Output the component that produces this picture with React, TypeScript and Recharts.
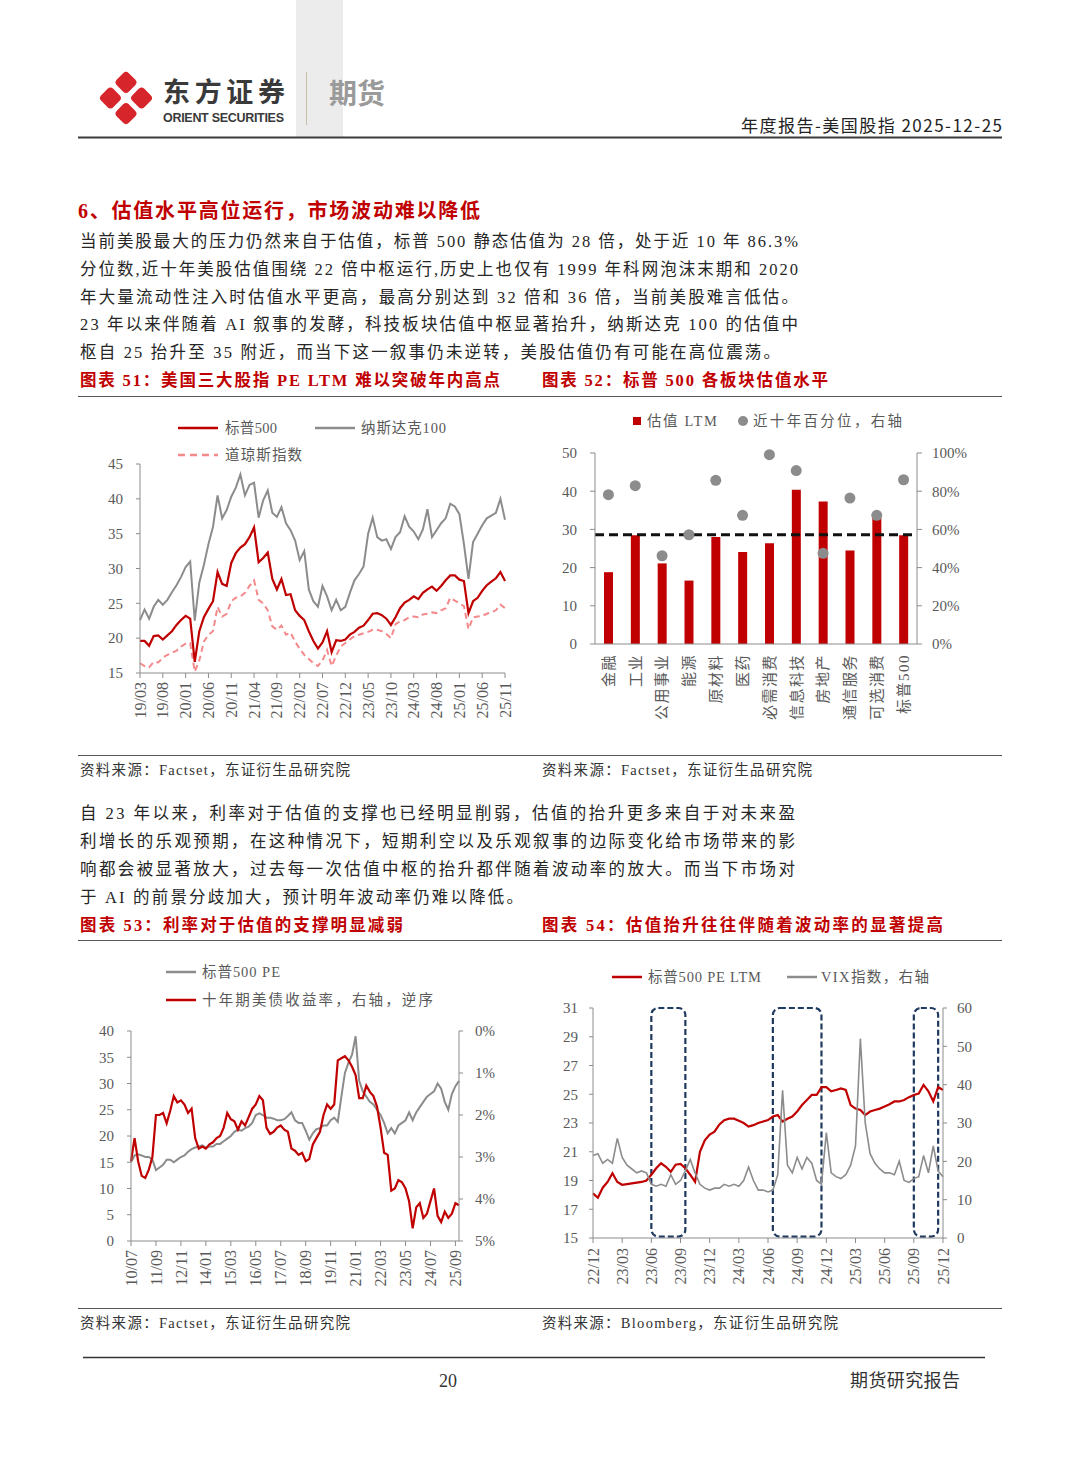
import React from 'react';
import {
  LineChart,
  ComposedChart,
  Line,
  Bar,
  XAxis,
  YAxis,
  ReferenceLine,
  ReferenceArea,
} from 'recharts';

const SERIF = '"Liberation Serif", "Noto Sans CJK SC", serif';
const SANS = '"Noto Sans CJK SC", "Noto Sans", sans-serif';
const RED = '#c00000';
const GRAY = '#8c8c8c';
const PINK = '#f4898b';
const AX = '#8c8c8c';
const TXT = '#595959';

// month labels like "19/03"
function monthSeq(y: number, m: number, n: number, step = 1) {
  const out: string[] = [];
  for (let i = 0; i < n; i++) {
    out.push(`${String(y % 100).padStart(2, '0')}/${String(m).padStart(2, '0')}`);
    m += step;
    while (m > 12) {
      m -= 12;
      y += 1;
    }
  }
  return out;
}

// ---- chart 51: PE LTM of the three indices, monthly 19/03 - 25/11
const months51 = monthSeq(2019, 3, 81);
const spx51 = [
  19.6, 19.6, 18.9, 20.3, 20.4, 19.8, 20.4, 21.0, 21.9, 22.6,
  23.2, 22.8, 16.6, 21.0, 23.0, 24.2, 25.3, 29.5, 27.8, 27.5, 30.8, 32.2,
  33.0, 33.5, 34.5, 35.9, 30.9, 31.5, 32.3, 28.5, 27.0, 28.5, 26.2, 26.3,
  24.0, 23.2, 22.6, 21.0, 19.6, 18.5, 19.4, 21.0, 18.0, 19.7, 19.6, 19.8,
  20.5, 20.9, 21.5, 21.8, 22.6, 23.5, 23.6, 23.3, 22.8, 21.9, 23.0, 24.3,
  25.1, 25.5, 26.0, 25.6, 26.5, 27.0, 27.4, 26.8, 27.5, 28.3, 29.0, 29.0,
  28.4, 28.2, 23.6, 25.3, 25.8, 26.8, 27.6, 28.1, 28.6, 29.5, 28.2,
];
const ndx51 = [
  22.6, 24.1, 22.8, 24.5, 25.5, 24.8, 25.5, 26.6, 27.6, 28.8,
  30.2, 31.0, 22.5, 28.0, 30.5, 33.5, 36.0, 40.5, 37.2, 38.4, 40.3, 41.6,
  43.5, 40.5, 42.0, 42.3, 37.3, 39.8, 41.2, 38.0, 37.4, 38.8, 36.5, 35.5,
  34.0, 31.2, 32.5, 27.0, 25.3, 24.5, 27.5, 26.0, 24.0, 25.5, 24.0, 24.5,
  26.5, 28.3, 29.2, 30.3, 35.0, 37.3, 34.5, 34.0, 34.2, 32.8, 34.5, 35.2,
  37.5, 36.0, 35.3, 34.2, 35.6, 38.5, 34.5, 35.5, 36.5, 37.2, 39.3, 38.9,
  37.8, 33.5, 28.5, 33.8, 35.0, 36.2, 37.2, 37.6, 38.0, 40.0, 37.0,
];
const dji51 = [
  16.4, 16.0, 15.8, 16.6, 16.5, 17.2, 17.6, 17.9, 18.2, 18.8,
  19.2, 19.3, 15.2, 16.8, 19.5, 20.5, 21.0, 24.5, 23.1, 23.5, 25.3, 25.8,
  26.0, 26.5, 27.5, 28.3, 25.5, 25.0, 24.0, 21.7, 21.2, 21.8, 20.5, 20.8,
  19.5, 18.5, 17.6, 17.0, 16.4, 16.0, 16.8, 18.3, 16.0, 17.5, 18.8, 19.3,
  19.8, 20.3, 20.5, 20.7, 20.9, 21.2, 21.2, 21.0, 20.6, 20.0, 22.0, 22.4,
  22.6, 23.0, 23.1, 23.0, 23.4, 23.5, 23.7, 23.6, 24.0, 24.3, 25.8, 25.4,
  25.0, 24.6, 21.3, 23.0, 23.1, 23.2, 23.5, 23.7, 24.0, 24.8, 24.3,
];
const ticks51 = [15, 20, 25, 30, 35, 40, 45];

// ---- chart 52: sector valuation
const sectors52 = ['金融', '工业', '公用事业', '能源', '原材料', '医药', '必需消费', '信息科技', '房地产', '通信服务', '可选消费', '标普500'];
const ltm52 = [18.8, 28.5, 21.1, 16.6, 28.0, 24.1, 26.4, 40.4, 37.3, 24.5, 33.0, 28.5];
const pct52 = [78.2, 82.9, 46.2, 57.2, 85.7, 67.4, 99.1, 90.8, 47.5, 76.4, 67.4, 86.0];
const spxLtm52 = 28.6;
const ticksL52 = [0, 10, 20, 30, 40, 50];
const ticksR52 = [0, 20, 40, 60, 80, 100];

// ---- chart 53: S&P 500 PE vs 10y yield (inverted), bimonthly 10/07 - 25/11
const dates53 = monthSeq(2010, 7, 93, 2);
const pe53 = [
  15.0, 16.3, 16.5, 16.3, 16.0, 16.0, 15.5, 13.5, 14.0, 14.5,
  15.5, 15.5, 15.0, 15.5, 16.0, 16.3, 17.0, 17.5, 17.8, 18.0,
  18.2, 17.8, 18.0, 18.0, 18.5, 18.5, 19.0, 19.5, 20.0, 20.8,
  21.2, 21.0, 21.5, 21.8, 22.5, 24.0, 24.3, 24.0, 23.5, 23.5,
  23.3, 23.0, 23.0, 23.2, 23.8, 24.5, 23.0, 22.5, 22.5, 21.0,
  19.3, 20.5, 21.3, 21.5, 22.0, 22.0, 23.0, 23.5, 22.7, 27.5,
  32.0, 34.0, 35.5, 39.0, 30.5, 28.5, 27.5, 26.5, 26.0, 25.0,
  24.0, 22.5, 20.5, 21.5, 20.5, 22.0, 22.5, 23.0, 24.5, 23.0,
  24.5, 25.5, 26.5, 27.5, 28.0, 28.5, 30.0, 29.0, 26.5, 25.0,
  28.0, 29.5, 30.5,
];
const y10_53 = [
  3.1, 2.55, 3.1, 3.45, 3.5, 3.3, 3.0, 2.0, 2.0, 1.95,
  2.2, 1.9, 1.55, 1.7, 1.65, 1.75, 1.95, 1.85, 2.55, 2.8,
  2.75, 2.8, 2.7, 2.65, 2.55, 2.5, 2.3, 1.95, 2.1, 2.15,
  2.35, 2.15, 2.25, 2.05, 1.85, 1.75, 1.55, 1.65, 2.3, 2.45,
  2.4, 2.3, 2.25, 2.35, 2.4, 2.8, 2.85, 2.95, 2.9, 3.1,
  3.05, 2.7, 2.55, 2.4, 2.0, 1.75, 1.85, 1.75, 0.7, 0.65,
  0.6, 0.7, 0.85, 1.05, 1.6, 1.6, 1.3, 1.45, 1.55, 1.8,
  2.3, 2.9, 2.95, 3.8, 3.75, 3.55, 3.6, 3.75, 4.05, 4.7,
  4.2, 4.1, 4.45, 4.35, 4.05, 3.75, 4.4, 4.55, 4.3, 4.45,
  4.35, 4.1, 4.15,
];
const ticksL53 = [0, 5, 10, 15, 20, 25, 30, 35, 40];
const ticksR53 = [0, 1, 2, 3, 4, 5];

// ---- chart 54: S&P 500 PE LTM vs VIX, half-monthly 22/12 - 25/12
const dates54 = monthSeq(2022, 12, 37).flatMap((d, i, arr) =>
  i < arr.length - 1 ? [d + 'a', d + 'b'] : [d + 'a']
);
const pe54 = [
  18.1, 17.8, 18.5, 18.9, 19.5, 18.9, 18.7, 18.75, 18.8, 18.85,
  18.9, 19.0, 19.4, 19.85, 20.2, 19.95, 19.6, 20.1, 20.15, 19.85,
  19.4, 18.9, 21.0, 21.8, 22.2, 22.4, 22.9, 23.2, 23.3, 23.3,
  23.15, 23.0, 22.75, 22.85, 23.0, 23.1, 23.2, 23.45, 23.55, 23.1,
  23.3, 23.45, 23.8, 24.25, 24.6, 24.95, 24.95, 25.5, 25.5, 25.2,
  25.3, 25.4, 25.3, 24.25, 24.0, 23.9, 23.55, 23.8, 23.9, 24.0,
  24.15, 24.3, 24.5, 24.5, 24.6, 24.8, 24.95, 25.05, 25.65, 25.2,
  24.5, 25.5, 25.3,
];
const vix54 = [
  21.5, 22, 19.5, 20.5, 19.5, 26, 21, 19, 18, 17,
  17.5, 17, 14, 13.5, 14, 13.5, 16.5, 14, 15, 17.5,
  20.5, 17, 14, 13, 12.5, 13, 13, 14, 13.5, 14,
  13.5, 15, 18.5, 15, 12.5, 12.5, 12, 12.5, 16.5, 38.5,
  19, 17, 21, 18, 21, 19.5, 15, 14, 27.5, 17,
  16, 15.5, 16.5, 19, 24, 52, 30, 22, 19.5, 18,
  17, 17, 16.5, 20, 15, 14.5, 15.5, 16, 21.5, 17,
  24, 17.5, 16,
];
const boxes54: [string, string][] = [
  ['23/06a', '23/09b'],
  ['24/06b', '24/11b'],
  ['25/09a', '25/11b'],
];
const ticksL54 = [15, 17, 19, 21, 23, 25, 27, 29, 31];
const ticksR54 = [0, 10, 20, 30, 40, 50, 60];

const data51 = months51.map((m, i) => ({ m, spx: spx51[i], ndx: ndx51[i], dji: dji51[i] }));
const data52 = sectors52.map((s, i) => ({ s, ltm: ltm52[i], pct: pct52[i] }));
const data53 = dates53.map((d, i) => ({ d, pe: pe53[i], y10: y10_53[i] }));
const data54 = dates54.map((d, i) => ({ d, pe: pe54[i], vix: vix54[i] }));

// ---- shared bits
const yTick = { fontSize: 15, fill: TXT, fontFamily: SERIF };

const RotTick = (props: any) => {
  const { x, y, payload, fmt, size = 16, spacing = 0 } = props;
  const label = fmt ? fmt(payload.value) : payload.value;
  return (
    <text
      x={x}
      y={y}
      transform={`rotate(-90 ${x} ${y})`}
      textAnchor="end"
      dy="0.35em"
      fontSize={size}
      letterSpacing={spacing}
      fill={TXT}
      fontFamily={SERIF}
    >
      {label}
    </text>
  );
};

const boxShape = (p: any) => (
  <rect
    x={p.x}
    y={p.y}
    width={p.width}
    height={p.height}
    rx={7}
    ry={7}
    fill="none"
    stroke="#1f3a5f"
    strokeWidth={2.2}
    strokeDasharray="6 3"
  />
);

const Chart51 = () => (
  <LineChart width={440} height={330} data={data51} margin={{ top: 64, right: 13, bottom: 0, left: 0 }}>
    <XAxis
      dataKey="m"
      interval={4}
      height={57}
      tickSize={5}
      tickMargin={4}
      axisLine={{ stroke: AX }}
      tickLine={{ stroke: AX }}
      tick={(p: any) => <RotTick {...p} />}
    />
    <YAxis
      domain={[15, 45]}
      ticks={ticks51}
      width={62}
      tickSize={4}
      tickMargin={13}
      axisLine={{ stroke: AX }}
      tickLine={{ stroke: AX }}
      tick={yTick}
    />
    <Line dataKey="ndx" stroke={GRAY} strokeWidth={2} dot={false} isAnimationActive={false} />
    <Line dataKey="dji" stroke={PINK} strokeWidth={2} strokeDasharray="6 4" dot={false} isAnimationActive={false} />
    <Line dataKey="spx" stroke={RED} strokeWidth={2.2} dot={false} isAnimationActive={false} />
  </LineChart>
);

const Chart52 = () => (
  <ComposedChart width={440} height={330} data={data52} margin={{ top: 53, right: 0, bottom: 0, left: 0 }}>
    <XAxis
      dataKey="s"
      interval={0}
      height={86}
      tickSize={0}
      tickMargin={10}
      tickLine={false}
      axisLine={{ stroke: AX }}
      tick={(p: any) => <RotTick {...p} size={15} spacing={1.5} />}
    />
    <YAxis
      yAxisId="l"
      domain={[0, 50]}
      ticks={ticksL52}
      width={55}
      tickSize={5}
      tickMargin={13}
      axisLine={{ stroke: AX }}
      tickLine={{ stroke: AX }}
      tick={yTick}
    />
    <YAxis
      yAxisId="r"
      orientation="right"
      domain={[0, 100]}
      ticks={ticksR52}
      width={63}
      tickSize={5}
      tickMargin={10}
      axisLine={{ stroke: AX }}
      tickLine={{ stroke: AX }}
      tick={yTick}
      tickFormatter={(v: number) => `${v}%`}
    />
    <Bar yAxisId="l" dataKey="ltm" fill={RED} barSize={9} isAnimationActive={false} />
    <ReferenceLine yAxisId="l" y={spxLtm52} stroke="#111" strokeWidth={3} strokeDasharray="9 5" />
    <Line
      yAxisId="r"
      dataKey="pct"
      stroke="none"
      dot={{ r: 5.5, fill: GRAY, stroke: 'none' }}
      activeDot={false}
      isAnimationActive={false}
    />
  </ComposedChart>
);

const Chart53 = () => (
  <LineChart width={440} height={340} data={data53} margin={{ top: 76, right: 0, bottom: 0, left: 0 }}>
    <XAxis
      dataKey="d"
      interval={6}
      height={54}
      tickSize={5}
      tickMargin={4}
      axisLine={{ stroke: AX }}
      tickLine={{ stroke: AX }}
      tick={(p: any) => <RotTick {...p} />}
    />
    <YAxis
      yAxisId="l"
      domain={[0, 40]}
      ticks={ticksL53}
      width={53}
      tickSize={4}
      tickMargin={13}
      axisLine={{ stroke: AX }}
      tickLine={{ stroke: AX }}
      tick={yTick}
    />
    <YAxis
      yAxisId="r"
      orientation="right"
      reversed
      domain={[0, 5]}
      ticks={ticksR53}
      width={59}
      tickSize={4}
      tickMargin={12}
      axisLine={{ stroke: AX }}
      tickLine={{ stroke: AX }}
      tick={yTick}
      tickFormatter={(v: number) => `${v}%`}
    />
    <Line yAxisId="l" dataKey="pe" stroke={GRAY} strokeWidth={2} dot={false} isAnimationActive={false} />
    <Line yAxisId="r" dataKey="y10" stroke={RED} strokeWidth={2.2} dot={false} isAnimationActive={false} />
  </LineChart>
);

const Chart54 = () => (
  <LineChart width={440} height={340} data={data54} margin={{ top: 53, right: 0, bottom: 0, left: 0 }}>
    <XAxis
      dataKey="d"
      interval={5}
      height={57}
      tickSize={5}
      tickMargin={5}
      axisLine={{ stroke: AX }}
      tickLine={{ stroke: AX }}
      tick={(p: any) => <RotTick {...p} fmt={(v: string) => v.slice(0, 5)} />}
    />
    <YAxis
      yAxisId="l"
      domain={[15, 31]}
      ticks={ticksL54}
      width={53}
      tickSize={4}
      tickMargin={11}
      axisLine={{ stroke: AX }}
      tickLine={{ stroke: AX }}
      tick={yTick}
    />
    <YAxis
      yAxisId="r"
      orientation="right"
      domain={[0, 60]}
      ticks={ticksR54}
      width={37}
      tickSize={4}
      tickMargin={10}
      axisLine={{ stroke: AX }}
      tickLine={{ stroke: AX }}
      tick={yTick}
    />
    {boxes54.map(([a, b]) => (
      <ReferenceArea key={a} yAxisId="l" x1={a} x2={b} y1={15.1} y2={31} shape={boxShape} ifOverflow="visible" />
    ))}
    <Line yAxisId="l" dataKey="pe" stroke={RED} strokeWidth={2.2} dot={false} isAnimationActive={false} />
    <Line yAxisId="r" dataKey="vix" stroke={GRAY} strokeWidth={1.6} dot={false} isAnimationActive={false} />
  </LineChart>
);

// text line helper, width forced with textLength
const T = ({ x, y, w, size = 16.5, fill = '#262626', weight = 400, family = SERIF, children }: any) => (
  <text
    x={x}
    y={y}
    textLength={w}
    lengthAdjust="spacing"
    fontSize={size}
    fill={fill}
    fontWeight={weight}
    fontFamily={family}
    dominantBaseline="central"
  >
    {children}
  </text>
);

const Page = () => (
  <svg width={1080} height={1466} style={{ position: 'absolute', left: 0, top: 0 }}>
    {/* header */}
    <rect x={296} y={0} width={47} height={137} fill="#ececec" />
    <g transform="translate(126 98) rotate(45)">
      <rect x={-19.5} y={-19.5} width={17} height={17} rx={4} fill="#d7262b" />
      <rect x={2.5} y={-19.5} width={17} height={17} rx={4} fill="#d7262b" />
      <rect x={-19.5} y={2.5} width={17} height={17} rx={4} fill="#d7262b" />
      <rect x={2.5} y={2.5} width={17} height={17} rx={4} fill="#d7262b" />
    </g>
    <T x={163} y={90} w={122} size={27} weight={700} family={SANS} fill="#3a3a3a">东方证券</T>
    <T x={163} y={118} w={121} size={12.5} weight={700} family='"Liberation Sans", Arial, sans-serif' fill="#3a3a3a">
      ORIENT SECURITIES
    </T>
    <line x1={306.5} y1={72} x2={306.5} y2={125} stroke="#c9bfa8" strokeWidth={1} />
    <T x={329} y={92} w={56} size={28} weight={700} family={SANS} fill="#9a9a9a">期货</T>
    <T x={741} y={124} w={261} size={17} family={SANS} fill="#222">年度报告-美国股指 2025-12-25</T>
    <line x1={78} y1={137.5} x2={1002} y2={137.5} stroke="#3c3c3c" strokeWidth={1.8} />

    {/* section 1 */}
    <T x={78} y={211} w={402} size={20} weight={700} fill={RED}>6、估值水平高位运行，市场波动难以降低</T>
    <T x={80} y={241} w={718}>当前美股最大的压力仍然来自于估值，标普 500 静态估值为 28 倍，处于近 10 年 86.3%</T>
    <T x={80} y={269} w={718}>分位数,近十年美股估值围绕 22 倍中枢运行,历史上也仅有 1999 年科网泡沫末期和 2020</T>
    <T x={80} y={297} w={718}>年大量流动性注入时估值水平更高，最高分别达到 32 倍和 36 倍，当前美股难言低估。</T>
    <T x={80} y={324} w={718}>23 年以来伴随着 AI 叙事的发酵，科技板块估值中枢显著抬升，纳斯达克 100 的估值中</T>
    <T x={80} y={352} w={700}>枢自 25 抬升至 35 附近，而当下这一叙事仍未逆转，美股估值仍有可能在高位震荡。</T>
    <T x={80} y={380} w={420} weight={700} fill={RED}>图表 51：美国三大股指 PE LTM 难以突破年内高点</T>
    <T x={542} y={380} w={286} weight={700} fill={RED}>图表 52：标普 500 各板块估值水平</T>
    <line x1={78} y1={396.5} x2={1002} y2={396.5} stroke="#595959" strokeWidth={1.2} />

    {/* legends 51 / 52 */}
    <line x1={178} y1={428} x2={218} y2={428} stroke={RED} strokeWidth={2.5} />
    <T x={225} y={428} w={52} size={14.5} fill={TXT}>标普500</T>
    <line x1={315} y1={428} x2={355} y2={428} stroke={GRAY} strokeWidth={2.5} />
    <T x={361} y={428} w={85} size={14.5} fill={TXT}>纳斯达克100</T>
    <line x1={178} y1={455} x2={218} y2={455} stroke={PINK} strokeWidth={2.5} strokeDasharray="7 5" />
    <T x={225} y={455} w={77} size={14.5} fill={TXT}>道琼斯指数</T>
    <rect x={633} y={417} width={8} height={8} fill={RED} />
    <T x={647} y={421} w={70} size={14.5} fill={TXT}>估值 LTM</T>
    <circle cx={743} cy={421} r={5} fill={GRAY} />
    <T x={753} y={421} w={149} size={14.5} fill={TXT}>近十年百分位，右轴</T>

    <line x1={78} y1={755.5} x2={1002} y2={755.5} stroke="#595959" strokeWidth={1.2} />
    <T x={80} y={770} w={270} size={14.5} fill="#333">资料来源：Factset，东证衍生品研究院</T>
    <T x={542} y={770} w={270} size={14.5} fill="#333">资料来源：Factset，东证衍生品研究院</T>

    {/* section 2 */}
    <T x={80} y={813} w={715}>自 23 年以来，利率对于估值的支撑也已经明显削弱，估值的抬升更多来自于对未来盈</T>
    <T x={80} y={841} w={715}>利增长的乐观预期，在这种情况下，短期利空以及乐观叙事的边际变化给市场带来的影</T>
    <T x={80} y={869} w={715}>响都会被显著放大，过去每一次估值中枢的抬升都伴随着波动率的放大。而当下市场对</T>
    <T x={80} y={897} w={443}>于 AI 的前景分歧加大，预计明年波动率仍难以降低。</T>
    <T x={80} y={925} w={323} weight={700} fill={RED}>图表 53：利率对于估值的支撑明显减弱</T>
    <T x={542} y={925} w={401} weight={700} fill={RED}>图表 54：估值抬升往往伴随着波动率的显著提高</T>
    <line x1={78} y1={940.5} x2={1002} y2={940.5} stroke="#595959" strokeWidth={1.2} />

    {/* legends 53 / 54 */}
    <line x1={166} y1={972} x2={196} y2={972} stroke={GRAY} strokeWidth={2.5} />
    <T x={202} y={972} w={78} size={14.5} fill={TXT}>标普500 PE</T>
    <line x1={166} y1={1000} x2={196} y2={1000} stroke={RED} strokeWidth={2.5} />
    <T x={202} y={1000} w={231} size={14.5} fill={TXT}>十年期美债收益率，右轴，逆序</T>
    <line x1={612} y1={977} x2={642} y2={977} stroke={RED} strokeWidth={2.5} />
    <T x={648} y={977} w={113} size={14.5} fill={TXT}>标普500 PE LTM</T>
    <line x1={787} y1={977} x2={817} y2={977} stroke={GRAY} strokeWidth={2.5} />
    <T x={821} y={977} w={108} size={14.5} fill={TXT}>VIX指数，右轴</T>

    <line x1={78} y1={1308.5} x2={1002} y2={1308.5} stroke="#595959" strokeWidth={1.2} />
    <T x={80} y={1323} w={270} size={14.5} fill="#333">资料来源：Factset，东证衍生品研究院</T>
    <T x={542} y={1323} w={296} size={14.5} fill="#333">资料来源：Bloomberg，东证衍生品研究院</T>

    {/* footer */}
    <line x1={83} y1={1357.5} x2={985} y2={1357.5} stroke="#333" strokeWidth={1.5} />
    <text x={448} y={1381} textAnchor="middle" dominantBaseline="central" fontSize={18} fontFamily={SERIF} fill="#333">
      20
    </text>
    <T x={850} y={1381} w={110} size={18} fill="#333">期货研究报告</T>
  </svg>
);

export default function App() {
  return (
    <div style={{ position: 'absolute', left: 0, top: 0, width: 1080, height: 1466, background: '#fff', overflow: 'hidden' }}>
      <Page />
      <div style={{ position: 'absolute', left: 78, top: 400 }}>
        <Chart51 />
      </div>
      <div style={{ position: 'absolute', left: 540, top: 400 }}>
        <Chart52 />
      </div>
      <div style={{ position: 'absolute', left: 78, top: 955 }}>
        <Chart53 />
      </div>
      <div style={{ position: 'absolute', left: 540, top: 955 }}>
        <Chart54 />
      </div>
    </div>
  );
}
